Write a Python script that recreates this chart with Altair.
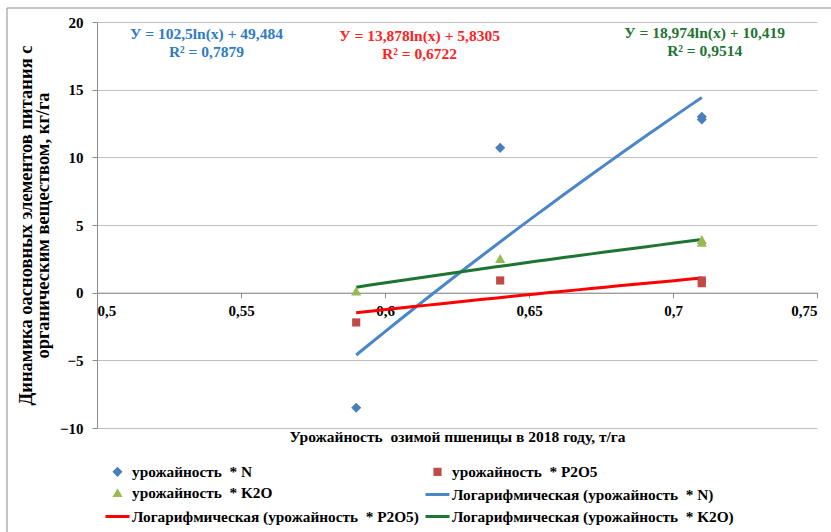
import altair as alt
import pandas as pd

# ---- data ----
yield_x = [0.59, 0.64, 0.71, 0.71]
n_vals = [-8.5, 10.7, 13.0, 12.8]
p_vals = [-2.2, 0.9, 0.9, 0.7]
k_vals = [0.1, 2.5, 3.9, 3.7]

point_names = ["урожайность\u00a0 * N", "урожайность\u00a0 * P2O5", "урожайность\u00a0 * K2O"]
trend_names = ["Логарифмическая (урожайность\u00a0 * N)",
               "Логарифмическая (урожайность\u00a0 * P2O5)",
               "Логарифмическая (урожайность\u00a0 * K2O)"]

eq_line1 = ["У = 102,5ln(x) + 49,484", "У = 13,878ln(x) + 5,8305", "У = 18,974ln(x) + 10,419"]
eq_line2 = ["R² = 0,7879", "R² = 0,6722", "R² = 0,9514"]
eq_x = [0.538, 0.612, 0.711]
eq_y1 = [19.1, 18.95, 19.2]
eq_y2 = [17.75, 17.6, 17.85]

x_ticks = [0.5, 0.55, 0.6, 0.65, 0.7, 0.75]
y_ticks = [-10, -5, 0, 5, 10, 15, 20]

x_title = "Урожайность\u00a0 озимой пшеницы в 2018 году, т/га"
y_title = ["Динамика оасновных элементов питания с", "органическим веществом, кг/га"]

# ---- tables ----
rows = []
for vals, pn, tn in zip([n_vals, p_vals, k_vals], point_names, trend_names):
    for xv, yv in zip(yield_x, vals):
        rows.append({"x": xv, "y": yv, "series": pn, "trend": tn})
pts = pd.DataFrame(rows)

eq_rows = []
for i in range(3):
    eq_rows.append({"x": eq_x[i], "y": eq_y1[i], "text": eq_line1[i], "grp": str(i)})
    eq_rows.append({"x": eq_x[i], "y": eq_y2[i], "text": eq_line2[i], "grp": str(i)})
eqs = pd.DataFrame(eq_rows)

# ---- styling ----
FONT = "Liberation Serif"
W, H = 720, 406
ymin, ymax = -10, 20
x_axis_offset = -H * (0 - ymin) / (ymax - ymin)

domain = point_names + trend_names
colors = ["#4A7EBB", "#BE4B48", "#98B954", "#4A86C8", "#FF0000", "#1E7432"]
# marker paths drawn small inside a large symbol box so every legend entry has the same height
shapes = [
    "M0,-0.42L0.42,0L0,0.42L-0.42,0Z",
    "M-0.34,-0.34H0.34V0.34H-0.34Z",
    "M0,-0.4L0.42,0.34L-0.42,0.34Z",
    "stroke", "stroke", "stroke",
]
SYM = 576
widths = [0, 0, 0, 3, 3, 3]

legend = alt.Legend(
    title=None, orient="none", legendX=7, legendY=437, columns=2, direction="horizontal",
    gridAlign="all", symbolSize=SYM,
    labelFont=FONT, labelFontWeight="bold", labelFontSize=15.3, labelColor="black",
    labelLimit=500, labelOffset=1, columnPadding=0, rowPadding=-2.5,
)

x_enc = alt.X(
    "x:Q",
    scale=alt.Scale(domain=[0.5, 0.75], nice=False, zero=False),
    axis=alt.Axis(
        values=x_ticks, labelExpr="replace(format(datum.value, '~g'), '.', ',')",
        offset=x_axis_offset, grid=False, domainColor="#8c8c8c", tickColor="#8c8c8c",
        tickSize=5, labelPadding=6, labelFont=FONT, labelFontSize=15,
        labelFontWeight="bold", labelColor="black",
        title=x_title, titleFont=FONT, titleFontSize=15.5, titleFontWeight="bold",
        titleColor="black", titleY=144, titleBaseline="middle",
    ),
)
y_enc = alt.Y(
    "y:Q",
    scale=alt.Scale(domain=[ymin, ymax], nice=False),
    axis=alt.Axis(
        values=y_ticks, grid=True, gridColor="#c0c0c0", domainColor="#8c8c8c",
        tickColor="#8c8c8c", tickSize=5, labelPadding=9, labelFont=FONT,
        labelFontSize=15, labelFontWeight="bold", labelColor="black",
        title=y_title, titleFont=FONT, titleFontSize=18.5, titleFontWeight="bold",
        titleColor="black", titlePadding=7, titleLineHeight=17,
    ),
)

points = alt.Chart(pts).mark_point(filled=True, opacity=1, size=SYM).encode(
    x=x_enc, y=y_enc,
    fill=alt.Fill("series:N", scale=alt.Scale(domain=domain, range=colors), legend=legend),
    shape=alt.Shape("series:N", scale=alt.Scale(domain=domain, range=shapes), legend=legend),
)

lines = alt.Chart(pts).transform_regression(
    "x", "y", method="log", groupby=["trend"], extent=[0.59, 0.71]
).transform_calculate(series="datum.trend").mark_line().encode(
    x="x:Q", y="y:Q",
    stroke=alt.Stroke("series:N", scale=alt.Scale(domain=domain, range=colors), legend=legend),
    strokeWidth=alt.StrokeWidth("series:N", scale=alt.Scale(type="ordinal", domain=domain, range=widths), legend=legend),
)

texts = alt.Chart(eqs).mark_text(font=FONT, fontWeight="bold", fontSize=15.5).encode(
    x="x:Q", y="y:Q", text="text:N",
    color=alt.Color("grp:N", scale=alt.Scale(domain=["0", "1", "2"], range=["#2E7BC4", "#FF1F1F", "#1E7432"]), legend=None),
)

border_data = alt.Data(values=[{"k": 1}])
border_left = alt.Chart(border_data).mark_rule(color="#8c8c8c", strokeWidth=1).encode(
    x=alt.value(-90), y=alt.value(-14), y2=alt.value(H + 110)
)
border_top = alt.Chart(border_data).mark_rule(color="#8c8c8c", strokeWidth=1).encode(
    x=alt.value(-90), x2=alt.value(W + 20), y=alt.value(-14)
)

chart = alt.layer(border_left, border_top, lines, points, texts).properties(
    width=W, height=H,
    padding={"left": 97, "top": 22, "right": 14, "bottom": 104},
    autosize=alt.AutoSizeParams(type="none"),
    background="white",
).configure_view(strokeWidth=0)

chart.save("out.html", embed_options={"renderer": "svg", "actions": False})
